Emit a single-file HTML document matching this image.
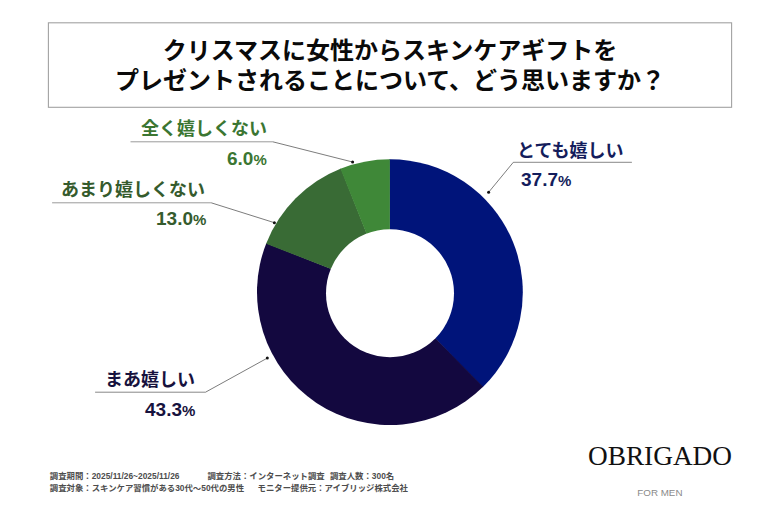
<!DOCTYPE html>
<html><head><meta charset="utf-8"><title>chart</title>
<style>html,body{margin:0;padding:0;background:#fff;}body{width:780px;height:520px;overflow:hidden;font-family:"Liberation Sans",sans-serif;}</style>
</head><body>
<svg width="780" height="520" viewBox="0 0 780 520" style="display:block" role="img">
<title>クリスマスに女性からスキンケアギフトをプレゼントされることについて、どう思いますか？</title>
<desc>とても嬉しい 37.7% / まあ嬉しい 43.3% / あまり嬉しくない 13.0% / 全く嬉しくない 6.0% / 調査期間：2025/11/26~2025/11/26 調査方法：インターネット調査 調査人数：300名 / 調査対象：スキンケア習慣がある30代〜50代の男性 モニター提供元：アイブリッジ株式会社 / OBRIGADO FOR MEN</desc>
<rect width="780" height="520" fill="#ffffff"/>
<rect x="48.4" y="22.8" width="683.2" height="84.5" fill="#ffffff" stroke="#a2a2a2" stroke-width="1.1"/>
<text x="390" y="59" text-anchor="middle" font-size="24" font-weight="700" fill="#0a0a0a" font-family='"Liberation Sans", "Noto Sans CJK JP", sans-serif'>クリスマスに女性からスキンケアギフトを</text>
<text x="390" y="89" text-anchor="middle" font-size="24" font-weight="700" fill="#0a0a0a" font-family='"Liberation Sans", "Noto Sans CJK JP", sans-serif'>プレゼントされることについて、どう思いますか？</text>
<path d="M389.9 292.1L389.32 159.20A132.9 132.9 0 0 1 482.69 387.25Z" fill="#00147a"/>
<path d="M389.9 292.1L483.10 386.84A132.9 132.9 0 0 1 266.33 243.18Z" fill="#13083f"/>
<path d="M389.9 292.1L266.12 243.72A132.9 132.9 0 0 1 340.98 168.53Z" fill="#396b35"/>
<path d="M389.9 292.1L340.44 168.75A132.9 132.9 0 0 1 389.90 159.20Z" fill="#3f8838"/>
<circle cx="390" cy="293.2" r="64" fill="#ffffff"/>
<line x1="130.5" y1="141.8" x2="272.8" y2="141.8" stroke="#9a9a9a" stroke-width="1.0"/>
<line x1="272.8" y1="141.8" x2="352.6" y2="162.0" stroke="#444" stroke-width="0.7"/>
<circle cx="352.6" cy="162.0" r="1.5" fill="#111"/>
<line x1="52.1" y1="202.8" x2="211.2" y2="202.8" stroke="#9a9a9a" stroke-width="1.0"/>
<line x1="211.2" y1="202.8" x2="274.4" y2="222.7" stroke="#444" stroke-width="0.7"/>
<circle cx="274.4" cy="222.7" r="1.5" fill="#111"/>
<line x1="95.1" y1="392.2" x2="205.5" y2="392.2" stroke="#555" stroke-width="0.7"/>
<line x1="205.5" y1="392.2" x2="267.3" y2="358.1" stroke="#444" stroke-width="0.7"/>
<circle cx="267.3" cy="358.1" r="1.5" fill="#111"/>
<line x1="631.9" y1="162.3" x2="513.3" y2="162.3" stroke="#555" stroke-width="0.7"/>
<line x1="513.3" y1="162.3" x2="488.6" y2="192.3" stroke="#444" stroke-width="0.7"/>
<circle cx="488.6" cy="192.3" r="1.5" fill="#111"/>
<text x="141" y="135" font-size="18" font-weight="700" fill="#3b7632" font-family='"Liberation Sans", "Noto Sans CJK JP", sans-serif'>全く嬉しくない</text>
<text x="227" y="164.5" font-size="19" font-weight="700" fill="#3b7632" font-family='"Liberation Sans", sans-serif'>6.0<tspan font-size="15">%</tspan></text>
<text x="61" y="196" font-size="18" font-weight="700" fill="#355b2d" font-family='"Liberation Sans", "Noto Sans CJK JP", sans-serif'>あまり嬉しくない</text>
<text x="156" y="224.9" font-size="19" font-weight="700" fill="#355b2d" font-family='"Liberation Sans", sans-serif'>13.0<tspan font-size="15">%</tspan></text>
<text x="105" y="386" font-size="18" font-weight="700" fill="#17123e" font-family='"Liberation Sans", "Noto Sans CJK JP", sans-serif'>まあ嬉しい</text>
<text x="145" y="415.8" font-size="19" font-weight="700" fill="#17123e" font-family='"Liberation Sans", sans-serif'>43.3<tspan font-size="15">%</tspan></text>
<text x="517" y="157" font-size="18" font-weight="700" fill="#141d5c" font-family='"Liberation Sans", "Noto Sans CJK JP", sans-serif'>とても嬉しい</text>
<text x="521" y="185.6" font-size="19" font-weight="700" fill="#141d5c" font-family='"Liberation Sans", sans-serif'>37.7<tspan font-size="15">%</tspan></text>
<text x="49.8" y="479" font-size="8.4" font-weight="700" fill="#4d4d4d" font-family='"Liberation Sans", "Noto Sans CJK JP", sans-serif'>調査期間：2025/11/26~2025/11/26</text>
<text x="207.5" y="479" font-size="8.4" font-weight="700" fill="#4d4d4d" font-family='"Liberation Sans", "Noto Sans CJK JP", sans-serif'>調査方法：インターネット調査</text>
<text x="330" y="479" font-size="8.4" font-weight="700" fill="#4d4d4d" font-family='"Liberation Sans", "Noto Sans CJK JP", sans-serif'>調査人数：300名</text>
<text x="49.8" y="491.3" font-size="8.4" font-weight="700" fill="#4d4d4d" font-family='"Liberation Sans", "Noto Sans CJK JP", sans-serif'>調査対象：スキンケア習慣がある30代〜50代の男性</text>
<text x="257.6" y="491.3" font-size="8.4" font-weight="700" fill="#4d4d4d" font-family='"Liberation Sans", "Noto Sans CJK JP", sans-serif'>モニター提供元：アイブリッジ株式会社</text>
<text x="588" y="465" font-size="28" fill="#111" textLength="144" lengthAdjust="spacingAndGlyphs" font-family='"Liberation Serif", serif'>OBRIGADO</text>
<text x="637.3" y="495.7" font-size="9.8" fill="#8a8a8a" font-family='"Liberation Sans", sans-serif'>FOR MEN</text>
</svg>
</body></html>
